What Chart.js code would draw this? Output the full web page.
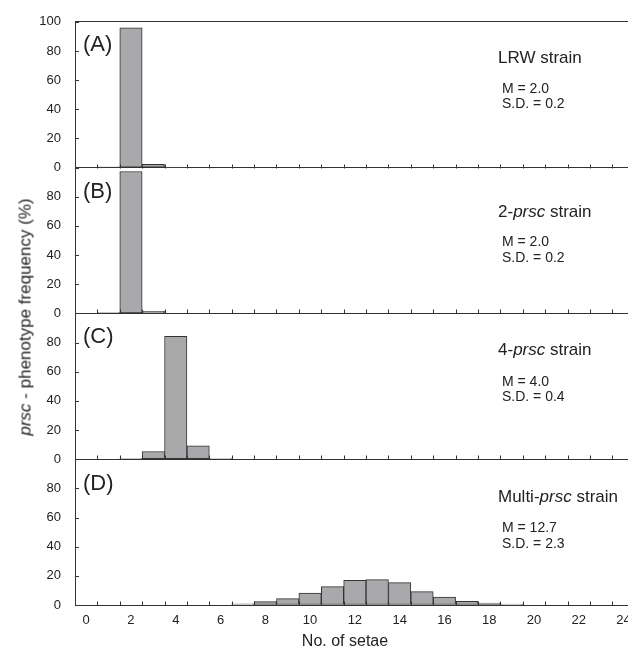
<!DOCTYPE html>
<html>
<head>
<meta charset="utf-8">
<script src="https://cdn.jsdelivr.net/npm/chart.js@4/dist/chart.umd.min.js"></script>
<style>
  body { margin: 0; background: #fff; }
  #wrap { position: relative; width: 628px; height: 654px; overflow: hidden;
          font-family: "Liberation Sans", Arial, sans-serif; color: #222; font-weight: normal; }
  #wrap canvas { position: absolute; left: 0; top: 0; }
  .txt { position: absolute; white-space: nowrap; }
  .letter { font-size: 22px; line-height: 22px; left: 83px; }
  .strain { font-size: 17px; line-height: 17px; left: 498px; }
  .stats { font-size: 14px; line-height: 15.4px; left: 502px; }
  #ytitle { font-size: 17px; line-height: 17px; left: 25px; top: 317px; color: #222;
            transform: translate(-50%, -50%) rotate(-90deg); }
  #xtitle { font-size: 16px; line-height: 16px; left: 345px; top: 641px; color: #222;
            transform: translate(-50%, -50%); }
</style>
</head>
<body>
<div id="wrap">
  <canvas id="myChart" width="628" height="654"></canvas>
  <div class="txt" id="ytitle"><i>prsc</i> - phenotype frequency (%)</div>
  <div class="txt" id="xtitle">No. of setae</div>
</div>
<script>
"use strict";

// number of setae (x categories)
const setae = [0, 1, 2, 3, 4, 5, 6, 7, 8, 9, 10, 11, 12, 13, 14, 15, 16, 17, 18, 19, 20, 21, 22, 23, 24];
const xTickLabels = [0, 2, 4, 6, 8, 10, 12, 14, 16, 18, 20, 22, 24];
const yTickLabels = [0, 20, 40, 60, 80, 100];

// phenotype frequency (%) per panel
const valuesA = [0, 0.6, 95.9, 2.3, 0.4, 0, 0, 0, 0, 0, 0, 0, 0, 0, 0, 0, 0, 0, 0, 0, 0, 0, 0, 0, 0];
const valuesB = [0, 0.5, 97.3, 1.5, 0, 0, 0, 0, 0, 0, 0, 0, 0, 0, 0, 0, 0, 0, 0, 0, 0, 0, 0, 0, 0];
const valuesC = [0, 0, 0.3, 5.3, 84.2, 9.2, 0.5, 0, 0, 0, 0, 0, 0, 0, 0, 0, 0, 0, 0, 0, 0, 0, 0, 0, 0];
const valuesD = [0, 0, 0, 0, 0, 0, 0, 0.8, 2.3, 4.4, 8.2, 12.6, 16.9, 17.4, 15.3, 9.2, 5.5, 2.5, 1.4, 0.6, 0, 0, 0, 0, 0];

const panelLetters = ["(A)", "(B)", "(C)", "(D)"];
const strainLabels = ["LRW strain", "2-<i>prsc</i> strain", "4-<i>prsc</i> strain", "Multi-<i>prsc</i> strain"];
const means = ["2.0", "2.0", "4.0", "12.7"];
const sds = ["0.2", "0.2", "0.4", "2.3"];

// layout of the overlay texts (top of each text box, px)
const letterTops = [33, 180, 325, 472];
const strainTops = [49, 202.5, 341, 488];
const statsTops = [80.8, 234.2, 373.8, 520.2];

const panelAxes = ["yA", "yB", "yC", "yD"];
const panelValues = [valuesA, valuesB, valuesC, valuesD];

const FONT = "'Liberation Sans', Arial, sans-serif";
const INK = "#333";

function addTexts() {
  const wrap = document.getElementById("wrap");
  for (let i = 0; i < 4; i++) {
    let l = document.createElement("div");
    l.className = "txt letter";
    l.style.top = letterTops[i] + "px";
    l.innerHTML = panelLetters[i];
    wrap.appendChild(l);

    let s = document.createElement("div");
    s.className = "txt strain";
    s.style.top = strainTops[i] + "px";
    s.innerHTML = strainLabels[i];
    wrap.appendChild(s);

    let st = document.createElement("div");
    st.className = "txt stats";
    st.style.top = statsTops[i] + "px";
    st.innerHTML = "M = " + means[i] + "<br>S.D. = " + sds[i];
    wrap.appendChild(st);
  }
}

function yAxis(showTop) {
  return {
    type: "linear",
    position: "left",
    stack: "panels",
    stackWeight: 1,
    min: 0,
    max: 100,
    afterFit: function (s) { s.width = 75; },
    afterBuildTicks: function (s) { s.ticks = yTickLabels.map(v => ({ value: v })); },
    border: { display: true, color: INK, width: 1 },
    grid: {
      drawTicks: false,
      color: function (c) {
        const v = c.tick.value;
        return (v === 0 || (showTop && v === 100)) ? INK : "rgba(0,0,0,0)";
      },
    },
    ticks: {
      padding: 14,
      autoSkip: false,
      color: "#222",
      font: { family: FONT, size: 13 },
      callback: function (v) { return (v === 100 && !showTop) ? "" : v; },
    },
  };
}

// small inward tick marks on every baseline and y axis
const innerTicks = {
  id: "innerTicks",
  afterDatasetsDraw(chart) {
    const ctx = chart.ctx;
    const xs = chart.scales.x;
    ctx.save();
    ctx.strokeStyle = INK;
    ctx.lineWidth = 1;
    for (let id of panelAxes) {
      const ys = chart.scales[id];
      const y0 = Math.round(ys.getPixelForValue(0)) + 0.5;
      ctx.beginPath();
      for (let s of setae) {
        const x = Math.round(xs.getPixelForValue(s + 0.5)) + 0.5;
        if (x >= xs.right) continue;
        ctx.moveTo(x, y0);
        ctx.lineTo(x, y0 - 4);
      }
      for (let t of ys.ticks) {
        const y = Math.round(ys.getPixelForValue(t.value)) + 0.5;
        ctx.moveTo(xs.left, y);
        ctx.lineTo(xs.left + 4, y);
      }
      ctx.stroke();
    }
    ctx.restore();
  },
};

function drawChart() {
  const ctx = document.getElementById("myChart").getContext("2d");
  const datasets = [];
  for (let i = 0; i < 4; i++) {
    datasets.push({
      data: setae.map((s, k) => ({ x: s, y: panelValues[i][k] })),
      yAxisID: panelAxes[i],
      backgroundColor: "#a9a9ab",
      borderColor: INK,
      borderWidth: 1,
      borderSkipped: false,
      barPercentage: 1,
      categoryPercentage: 1,
      grouped: false,
    });
  }

  // later-defined left axes are placed higher in the stack
  const scales = {
    x: {
      type: "linear",
      offset: false,
      min: -0.5,
      max: 24.2,
      afterFit: function (s) { s.height = 49; s.paddingRight = 0; },
      afterBuildTicks: function (s) { s.ticks = xTickLabels.map(v => ({ value: v })); },
      border: { display: false },
      grid: { display: false },
      ticks: { padding: 0, color: "#222", font: { family: FONT, size: 13 }, maxRotation: 0, autoSkip: false },
    },
    yD: yAxis(false),
    yC: yAxis(false),
    yB: yAxis(false),
    yA: yAxis(true),
  };

  new Chart(ctx, {
    type: "bar",
    data: { datasets: datasets },
    options: {
      responsive: false,
      animation: false,
      layout: { padding: { top: 21, right: 0, bottom: 0, left: 0 } },
      plugins: { legend: { display: false }, tooltip: { enabled: false } },
      scales: scales,
    },
    plugins: [innerTicks],
  });
}

addTexts();
drawChart();
</script>
</body>
</html>
